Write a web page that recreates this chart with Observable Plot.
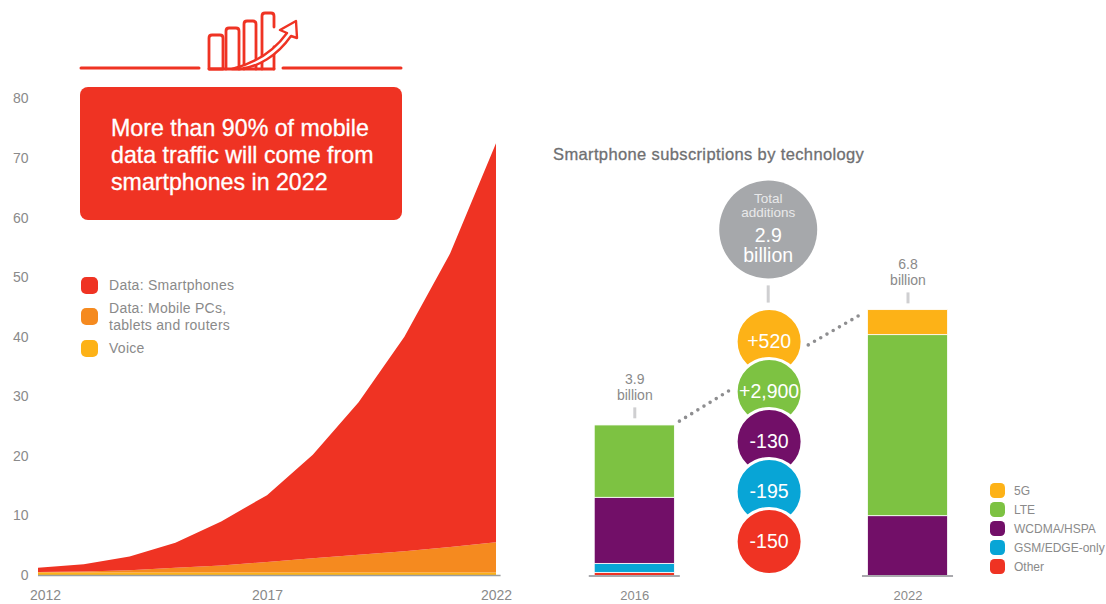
<!DOCTYPE html>
<html>
<head>
<meta charset="utf-8">
<script src="https://cdn.jsdelivr.net/npm/d3@7"></script>
<script src="https://cdn.jsdelivr.net/npm/@observablehq/plot@0.6"></script>
<style>
html,body{margin:0;padding:0;background:#fff;}
#page{position:relative;width:1106px;height:604px;overflow:hidden;font-family:"Liberation Sans",sans-serif;}
#page>svg{position:absolute;left:0;top:0;background:transparent;}
.callout{position:absolute;left:80px;top:87px;width:322px;height:133px;background:#ef3323;border-radius:8px;color:#fff;font-size:23.2px;line-height:27px;padding:28px 0 0 31px;box-sizing:border-box;-webkit-text-stroke:0.3px #fff;white-space:nowrap;}
.title{position:absolute;left:553px;top:145px;font-size:16.5px;letter-spacing:0.37px;color:#6f7072;-webkit-text-stroke:0.3px #6f7072;white-space:nowrap;}
.legend{position:absolute;color:#8a8a8a;}
.legend .row{position:absolute;white-space:nowrap;}
.legend i{position:absolute;display:block;}
</style>
</head>
<body>
<div id="page"></div>
<script>
// ---- Left chart: mobile data traffic
const years = [2012,2013,2014,2015,2016,2017,2018,2019,2020,2021,2022];
const voice       = [0.4,0.4,0.4,0.4,0.4,0.4,0.4,0.4,0.4,0.4,0.4];
const mobilePCs   = [0.1,0.2,0.4,0.8,1.2,1.8,2.4,3.0,3.6,4.3,5.1];
const smartphones = [0.7,1.2,2.3,4.2,7.4,11.2,17.4,25.6,36.0,49.3,67.0];
const trafficNames  = ["Voice","Data: Mobile PCs, tablets and routers","Data: Smartphones"];
const trafficColors = ["#fdb217","#f58a1f","#ef3323"];
const yTicks = [0,10,20,30,40,50,60,70,80];

// ---- Right chart: subscriptions by technology (billions)
const techNames  = ["Other","GSM/EDGE-only","WCDMA/HSPA","LTE","5G"];
const techColors = ["#ef3323","#08a5d6","#720f68","#7dc242","#fdb217"];
const subs2016 = [0.08,0.23,1.69,1.85,0];
const subs2022 = [0,0,1.53,4.63,0.64];
const barYears = [2016,2022];
const barTotals = ["3.9\nbillion","6.8\nbillion"];
const additionTech   = ["5G","LTE","WCDMA/HSPA","GSM/EDGE-only","Other"];
const additionLabels = ["+520","+2,900","-130","-195","-150"];
const totalLabels = ["Total","additions","2.9","billion"];

const grey = "#8a8a8a";
const page = document.getElementById("page");
const W = 1106, H = 604;

// left plot
const traffic = [];
[voice,mobilePCs,smartphones].forEach((s,i)=>s.forEach((v,j)=>traffic.push({year:years[j],value:v,series:trafficNames[i]})));
const left = Plot.plot({
  width:W,height:H,marginLeft:28,marginBottom:29,marginTop:0,marginRight:0,
  style:{background:"transparent",fontFamily:"Liberation Sans"},
  x:{domain:[2012,2022],range:[38,496],axis:null},
  y:{domain:[0,80],range:[575,98.5],axis:null},
  color:{domain:trafficNames,range:trafficColors},
  marks:[
    Plot.areaY(traffic,{x:"year",y:"value",fill:"series",z:"series",curve:"linear"}),
    Plot.ruleY([0],{x1:()=>2012,x2:()=>2022.1,stroke:"#9a9ea1",strokeWidth:1.5}),
    Plot.axisY({ticks:yTicks,tickSize:0,tickPadding:0,label:null,color:grey,fontSize:14,tickFormat:d=>d}),
    Plot.axisX({ticks:[2012],tickSize:0,tickPadding:15,label:null,color:grey,fontSize:14,tickFormat:"d",dx:7}),
    Plot.axisX({ticks:[2017,2022],tickSize:0,tickPadding:15,label:null,color:grey,fontSize:14,tickFormat:"d"})
  ]
});
page.appendChild(left);

// right plot: bars
const subs = [];
[subs2016,subs2022].forEach((s,k)=>s.forEach((v,i)=>{ if(v>0) subs.push({year:barYears[k],value:v,tech:techNames[i]}); }));
const xRight = {domain:[2016,2022],range:[634.3,907.5],axis:null};
const yRight = {domain:[0,7],range:[575.5,301.8],axis:null};
const connectors = [
  {x1:2016.98,y1:3.96,x2:2018.1,y2:4.76},
  {x1:2019.81,y1:5.91,x2:2020.95,y2:6.68}
];
const leaders = [
  {x:2016,y1:4.02,y2:4.30},
  {x:2022,y1:6.96,y2:7.24},
  {x:2018.93,y1:6.98,y2:7.42}
];
const labelHeights = [4.84,7.78];
const right = Plot.plot({
  width:W,height:H,marginLeft:0,marginBottom:29,marginTop:0,marginRight:0,
  style:{background:"transparent",fontFamily:"Liberation Sans"},
  x:xRight,y:yRight,
  color:{domain:techNames,range:techColors},
  marks:[
    Plot.rectY(subs,Plot.stackY({
      x1:d=>d.year-0.88,x2:d=>d.year+0.88,y:"value",fill:"tech",order:techNames,
      stroke:"#fff",strokeWidth:0.8})),
    Plot.ruleY(barYears,{y:()=>0,x1:d=>d-1,x2:d=>d+1,stroke:"#a9a9ad",strokeWidth:2}),
    Plot.link(connectors,{x1:"x1",y1:"y1",x2:"x2",y2:"y2",stroke:"#8e8e90",strokeWidth:3.6,strokeDasharray:"0 7.2",strokeLinecap:"round"}),
    Plot.ruleX(leaders,{x:"x",y1:"y1",y2:"y2",stroke:"#cfcfd1",strokeWidth:3}),
    Plot.text(barTotals,{x:(d,i)=>barYears[i],y:(d,i)=>labelHeights[i],text:d=>d,fill:grey,fontSize:14,lineHeight:1.15,textAnchor:"middle"}),
    Plot.axisX({ticks:barYears,tickSize:0,tickPadding:15,label:null,color:grey,fontSize:13,tickFormat:"d"})
  ]
});
page.appendChild(right);

// circles plot: additions, stacked top to bottom with later circles on top
const circles = additionTech.map((t,i)=>({tech:t,label:additionLabels[i]}));
const addX = ()=>2018.95;
const circlePlot = Plot.plot({
  width:W,height:H,marginLeft:0,marginBottom:0,marginTop:229,marginRight:0,
  style:{background:"transparent",fontFamily:"Liberation Sans"},
  x:xRight,
  y:{type:"point",domain:additionTech,range:[340,541],padding:0,axis:null},
  color:{domain:techNames,range:techColors},
  marks:[
    Plot.dot(["total"],{x:()=>2018.93,frameAnchor:"top",r:49,fill:"#a6a8ab"}),
    ...totalLabels.map((t,i)=>Plot.text([t],{x:()=>2018.93,frameAnchor:"top",textAnchor:"middle",lineAnchor:"middle",text:d=>d,
      fill:i<2?"#e9e9ea":"#fff",fontSize:i<2?13.5:19.5,dy:[-31,-17,6,26][i]})),
    Plot.dot(circles,{x:addX,y:"tech",r:33,fill:"tech",stroke:"#fff",strokeWidth:3}),
    Plot.text(circles,{x:addX,y:"tech",text:"label",fill:"#fff",fontSize:19.5,textAnchor:"middle"})
  ]
});
page.appendChild(circlePlot);

// decoration: header icon
const ns = "http://www.w3.org/2000/svg";
const icon = document.createElementNS(ns,"svg");
icon.setAttribute("width",W);icon.setAttribute("height",100);
icon.innerHTML = `
<g fill="none" stroke="#ef3323" stroke-width="2.8" stroke-linecap="round" stroke-linejoin="round">
  <path d="M81 68H199M283 68H401" stroke-width="3"/>
  <path d="M209 69V38q0-3 3-3h8q3 0 3 3V69Z"/>
  <path d="M226 69V31q0-3 3-3h7q3 0 3 3V69"/>
  <path d="M244 69V24q0-3 3-3h6q3 0 3 3V69"/>
  <path d="M262 69V16q0-3 3-3h6q3 0 3 3V27M274 47V69"/>
  <path d="M209 69h65"/>
</g>
<path d="M232 69C256 63 274 51 287 33L280 30 296 21 297 38 291 36C277 56 258 67 240 69Z" fill="#fff" stroke="#ef3323" stroke-width="2.4" stroke-linejoin="round"/>`;
page.appendChild(icon);

// callout and title
const callout = document.createElement("div");
callout.className="callout";
callout.innerHTML="More than 90% of mobile<br>data traffic will come from<br>smartphones in 2022";
page.appendChild(callout);
const title = document.createElement("div");
title.className="title";title.textContent="Smartphone subscriptions by technology";
page.appendChild(title);

// legends
function legend(items,x,textX,size,font,spacing){
  const l=document.createElement("div");l.className="legend";l.style.left="0";l.style.top="0";
  items.forEach(it=>{
    const s=document.createElement("i");
    s.style.cssText=`left:${x}px;top:${it.y-size/2}px;width:${size}px;height:${size}px;background:${it.color};border-radius:${size*0.3}px`;
    l.appendChild(s);
    const r=document.createElement("div");r.className="row";
    r.style.cssText=`left:${textX}px;top:${it.ty-font}px;font-size:${font}px;line-height:${font*1.22}px;letter-spacing:${spacing}px`;
    r.innerHTML=it.html;l.appendChild(r);
  });
  page.appendChild(l);
}
legend([
  {y:285,ty:291,color:trafficColors[2],html:"Data: Smartphones"},
  {y:316,ty:314,color:trafficColors[1],html:"Data: Mobile PCs,<br>tablets and routers"},
  {y:348,ty:354,color:trafficColors[0],html:"Voice"}
],80.5,109,17,14,0.27);
legend(additionTech.map((t,i)=>({y:490+19*i,ty:490+19*i+6,color:techColors[techNames.indexOf(t)],html:t})),989.5,1014,15,12,0);
</script>
</body>
</html>
